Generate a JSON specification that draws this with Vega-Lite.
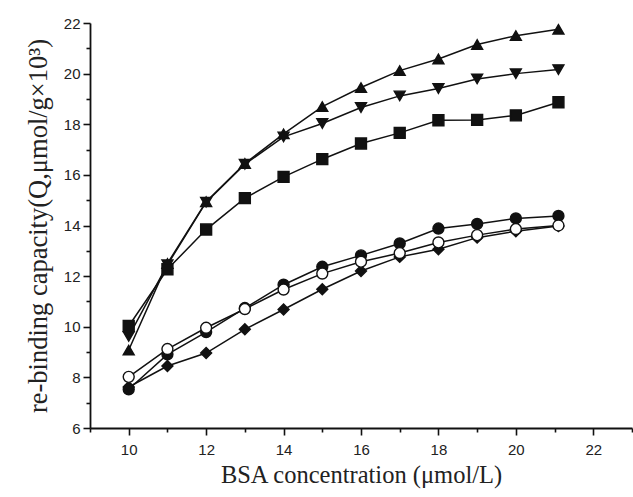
{
  "$schema": "https://vega.github.io/schema/vega-lite/v6.json",
  "width": 542,
  "height": 405,
  "autosize": {"type": "none"},
  "padding": {"left": 90, "top": 23, "right": 1, "bottom": 69},
  "background": "white",
  "config": {"view": {"stroke": null}},
  "data": {"values": [
    {"s": "A", "x": 10, "y": 9.08}, {"s": "A", "x": 11, "y": 12.5}, {"s": "A", "x": 12, "y": 14.94}, {"s": "A", "x": 13, "y": 16.45}, {"s": "A", "x": 14, "y": 17.62}, {"s": "A", "x": 15, "y": 18.7}, {"s": "A", "x": 16, "y": 19.45}, {"s": "A", "x": 17, "y": 20.12}, {"s": "A", "x": 18, "y": 20.58}, {"s": "A", "x": 19, "y": 21.15}, {"s": "A", "x": 20, "y": 21.5}, {"s": "A", "x": 21.1, "y": 21.75},
    {"s": "B", "x": 10, "y": 9.62}, {"s": "B", "x": 11, "y": 12.45}, {"s": "B", "x": 12, "y": 14.92}, {"s": "B", "x": 13, "y": 16.42}, {"s": "B", "x": 14, "y": 17.5}, {"s": "B", "x": 15, "y": 18.03}, {"s": "B", "x": 16, "y": 18.66}, {"s": "B", "x": 17, "y": 19.12}, {"s": "B", "x": 18, "y": 19.41}, {"s": "B", "x": 19, "y": 19.79}, {"s": "B", "x": 20, "y": 20.0}, {"s": "B", "x": 21.1, "y": 20.16},
    {"s": "C", "x": 10, "y": 10.03}, {"s": "C", "x": 11, "y": 12.27}, {"s": "C", "x": 12, "y": 13.84}, {"s": "C", "x": 13, "y": 15.08}, {"s": "C", "x": 14, "y": 15.92}, {"s": "C", "x": 15, "y": 16.62}, {"s": "C", "x": 16, "y": 17.24}, {"s": "C", "x": 17, "y": 17.66}, {"s": "C", "x": 18, "y": 18.16}, {"s": "C", "x": 19, "y": 18.17}, {"s": "C", "x": 20, "y": 18.35}, {"s": "C", "x": 21.1, "y": 18.87},
    {"s": "D", "x": 10, "y": 7.53}, {"s": "D", "x": 11, "y": 8.91}, {"s": "D", "x": 12, "y": 9.79}, {"s": "D", "x": 13, "y": 10.74}, {"s": "D", "x": 14, "y": 11.66}, {"s": "D", "x": 15, "y": 12.37}, {"s": "D", "x": 16, "y": 12.82}, {"s": "D", "x": 17, "y": 13.29}, {"s": "D", "x": 18, "y": 13.88}, {"s": "D", "x": 19, "y": 14.06}, {"s": "D", "x": 20, "y": 14.28}, {"s": "D", "x": 21.1, "y": 14.38},
    {"s": "F", "x": 10, "y": 7.62}, {"s": "F", "x": 11, "y": 8.45}, {"s": "F", "x": 12, "y": 8.96}, {"s": "F", "x": 13, "y": 9.9}, {"s": "F", "x": 14, "y": 10.68}, {"s": "F", "x": 15, "y": 11.48}, {"s": "F", "x": 16, "y": 12.2}, {"s": "F", "x": 17, "y": 12.76}, {"s": "F", "x": 18, "y": 13.06}, {"s": "F", "x": 19, "y": 13.52}, {"s": "F", "x": 20, "y": 13.77}, {"s": "F", "x": 21.1, "y": 13.98},
    {"s": "E", "x": 10, "y": 8.02}, {"s": "E", "x": 11, "y": 9.12}, {"s": "E", "x": 12, "y": 9.96}, {"s": "E", "x": 13, "y": 10.7}, {"s": "E", "x": 14, "y": 11.47}, {"s": "E", "x": 15, "y": 12.1}, {"s": "E", "x": 16, "y": 12.57}, {"s": "E", "x": 17, "y": 12.91}, {"s": "E", "x": 18, "y": 13.33}, {"s": "E", "x": 19, "y": 13.62}, {"s": "E", "x": 20, "y": 13.86}, {"s": "E", "x": 21.1, "y": 14.0}
  ]},
  "encoding": {
    "x": {
      "field": "x", "type": "quantitative",
      "scale": {"domain": [9, 23], "nice": false, "zero": false},
      "axis": {
        "title": "BSA concentration (μmol/L)",
        "values": [9, 10, 11, 12, 13, 14, 15, 16, 17, 18, 19, 20, 21, 22, 23],
        "labelExpr": "datum.value % 2 === 0 ? datum.label : ''",
        "grid": false,
        "domainColor": "#111", "domainWidth": 1.8,
        "tickColor": "#111", "tickWidth": 1.6,
        "tickSize": {"condition": {"test": "datum.value % 2 === 0", "value": 7}, "value": 4},
        "labelFont": "Liberation Sans", "labelFontSize": 15, "labelColor": "#222", "labelPadding": 7,
        "labelFlush": false, "labelOverlap": false,
        "titleFont": "Liberation Serif", "titleFontSize": 24.5, "titleFontWeight": "normal", "titleColor": "#222", "titlePadding": 6
      }
    },
    "y": {
      "field": "y", "type": "quantitative",
      "scale": {"domain": [6, 22], "nice": false, "zero": false},
      "axis": {
        "title": "re-binding capacity(Q,μmol/g×10³)",
        "values": [6, 7, 8, 9, 10, 11, 12, 13, 14, 15, 16, 17, 18, 19, 20, 21, 22],
        "labelExpr": "datum.value % 2 === 0 ? datum.label : ''",
        "grid": false,
        "domainColor": "#111", "domainWidth": 1.8,
        "tickColor": "#111", "tickWidth": 1.6,
        "tickSize": {"condition": {"test": "datum.value % 2 === 0", "value": 7}, "value": 4},
        "labelFont": "Liberation Sans", "labelFontSize": 15, "labelColor": "#222", "labelPadding": 3,
        "labelFlush": false, "labelOverlap": false,
        "titleFont": "Liberation Serif", "titleFontSize": 26.5, "titleFontWeight": "normal", "titleColor": "#222", "titlePadding": 11
      }
    }
  },
  "layer": [
    {
      "mark": {"type": "line", "color": "#111", "strokeWidth": 1.5},
      "encoding": {"detail": {"field": "s"}}
    },
    {
      "mark": {"type": "point", "filled": true, "stroke": "#111", "strokeWidth": 1.4, "opacity": 1, "size": 120},
      "encoding": {
        "shape": {"field": "s", "type": "nominal", "legend": null,
          "scale": {"domain": ["A", "B", "C", "D", "E", "F"], "range": ["triangle-up", "triangle-down", "square", "circle", "circle", "diamond"]}},
        "fill": {"field": "s", "type": "nominal", "legend": null,
          "scale": {"domain": ["A", "B", "C", "D", "E", "F"], "range": ["#111", "#111", "#111", "#111", "#ffffff", "#111"]}}
      }
    }
  ]
}
